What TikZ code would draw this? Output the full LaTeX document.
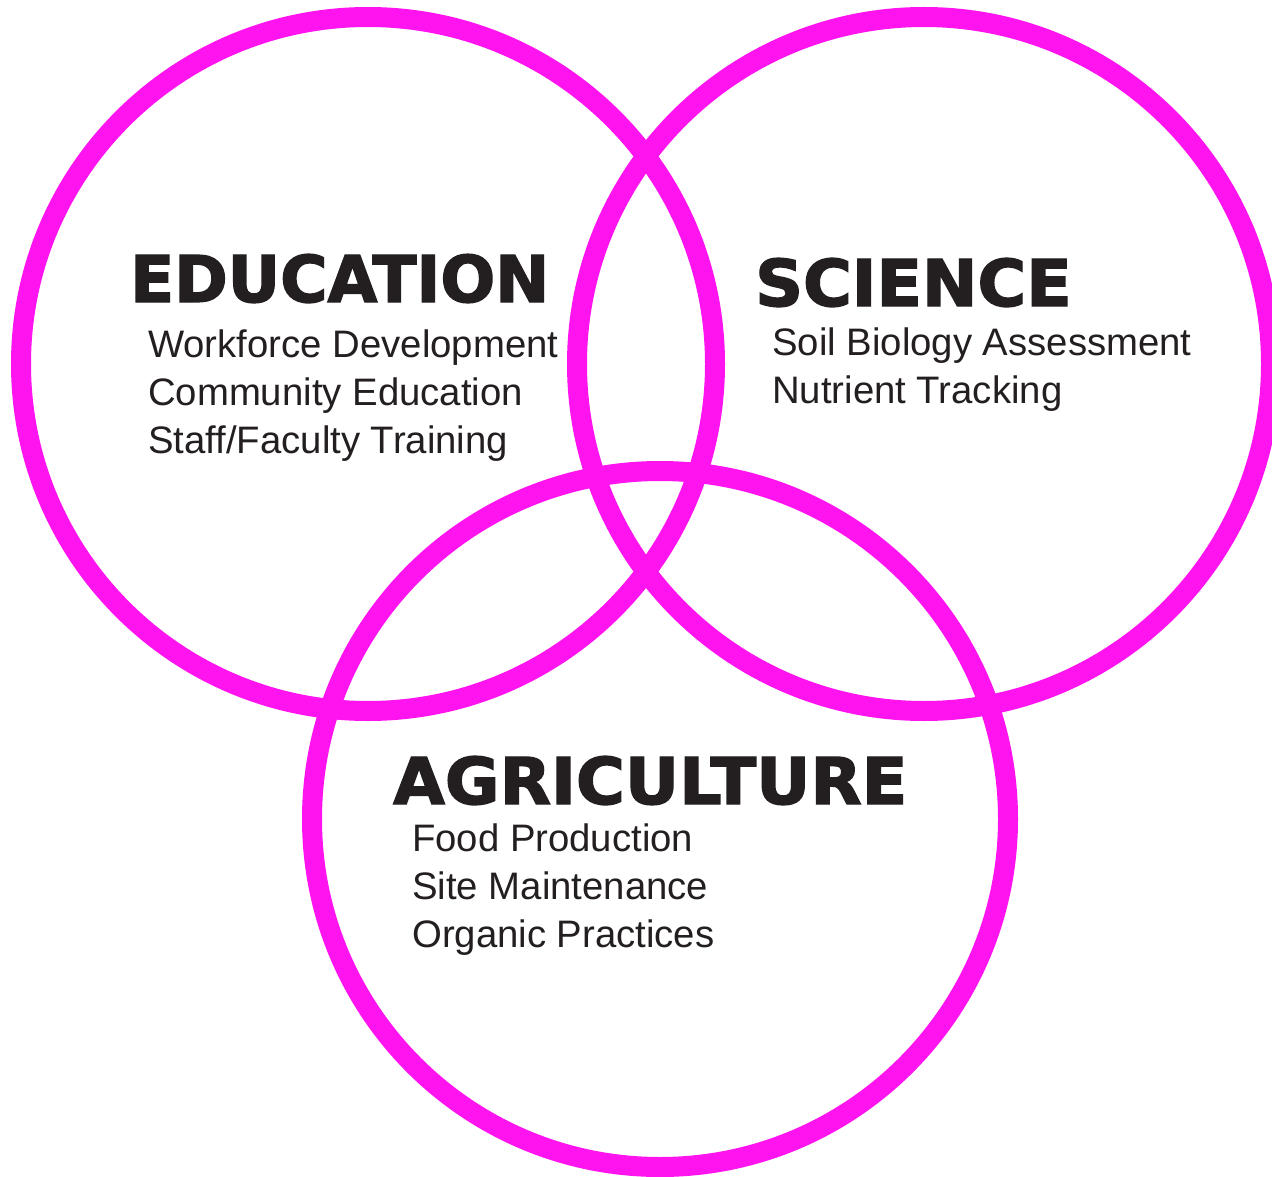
\documentclass[tikz,border=0pt]{standalone}
\usepackage{fontspec}
\setmainfont{Liberation Sans}
\newfontfamily\headfont{DejaVu Sans Bold}[FakeBold=2.2]
\definecolor{ringmag}{RGB}{255,20,240}
\definecolor{inkdark}{RGB}{35,31,32}
\begin{document}
\begin{tikzpicture}[x=1pt,y=-1pt,
  ring/.style={draw=ringmag,line width=20pt},
  headtxt/.style={anchor=base west,inner sep=0pt,text=inkdark,font=\headfont\fontsize{64.5}{70}\selectfont},
  bodytxt/.style={anchor=base west,inner sep=0pt,text=inkdark,font=\fontsize{38.3}{46}\selectfont}]
\useasboundingbox (0,0) rectangle (1272,1177);
\fill[white] (0,0) rectangle (1272,1177);
\begin{scope}
\clip (0,0) rectangle (1272,1177);
\draw[ring] (368,364) circle[radius=347];
\draw[ring] (924,364) circle[radius=347];
\draw[ring] (660,819) circle[radius=348];
\end{scope}
% Education
\node[headtxt] (eduh) at (130,302) {EDUCATION};
\node[bodytxt] (edu1) at (148,357) {Workforce Development};
\node[bodytxt] (edu2) at (148,405) {Community Education};
\node[bodytxt] (edu3) at (148,453) {Staff/Faculty Training};
% Science
\node[headtxt,xscale=1.03] (scih) at (755,306) {SCIENCE};
\node[bodytxt] (sci1) at (772,355) {Soil Biology Assessment};
\node[bodytxt] (sci2) at (772,403) {Nutrient Tracking};
% Agriculture
\node[headtxt,xscale=1.035] (agrh) at (393,804) {AGRICULTURE};
\node[bodytxt] (agr1) at (412,851) {Food Production};
\node[bodytxt] (agr2) at (412,899) {Site Maintenance};
\node[bodytxt] (agr3) at (412,947) {Organic Practices};
\end{tikzpicture}
\end{document}
